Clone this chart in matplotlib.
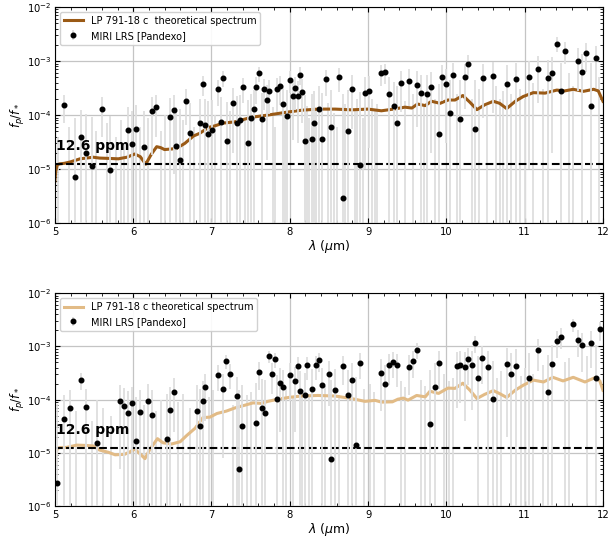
import numpy as np
import matplotlib
matplotlib.use('Agg')
import matplotlib.pyplot as plt

# ---- top panel: binned MIRI LRS points (ppm) ----
wl_a = [5.11, 5.26, 5.33, 5.40, 5.47, 5.60, 5.71, 5.94, 5.99, 6.04,
        6.14, 6.24, 6.29, 6.47, 6.52, 6.55, 6.60, 6.68, 6.73, 6.85,
        6.89, 6.92, 6.96, 7.01, 7.08, 7.12, 7.15, 7.20, 7.27, 7.32,
        7.36, 7.40, 7.46, 7.50, 7.54, 7.57, 7.61, 7.64, 7.67, 7.71,
        7.74, 7.84, 7.87, 7.91, 7.97, 8.00, 8.04, 8.07, 8.10, 8.13,
        8.16, 8.19, 8.28, 8.31, 8.37, 8.41, 8.46, 8.52, 8.63, 8.68,
        8.74, 8.79, 8.90, 8.96, 9.01, 9.16, 9.22, 9.27, 9.33, 9.37,
        9.42, 9.52, 9.63, 9.67, 9.75, 9.80, 9.91, 9.95, 10.00, 10.04,
        10.09, 10.18, 10.24, 10.28, 10.37, 10.47, 10.59, 10.77, 10.89, 11.06,
        11.17, 11.30, 11.35, 11.41, 11.46, 11.51, 11.68, 11.73, 11.78, 11.85,
        11.91]
fp_a = [155, 7.2, 39, 19.5, 11.5, 129, 9.5, 52, 29.5, 56,
        26, 118, 140, 93, 123, 27, 15, 185, 47, 71,
        380, 65, 45, 54, 300, 74, 490, 33, 170, 72,
        81, 330, 30, 87, 130, 330, 590, 83, 300, 190,
        280, 300, 340, 160, 95, 450, 230, 320, 230, 560,
        270, 33, 36, 72, 129, 36, 460, 59, 510, 2.9,
        50, 300, 12, 260, 280, 600, 630, 245, 148, 72,
        390, 430, 360, 260, 250, 330, 45, 510, 370, 110,
        560, 85, 500, 890, 56, 490, 530, 380, 460, 510,
        700, 490, 600, 2100, 280, 1550, 1000, 630, 1400, 148,
        1120]
err_a = [85, 80, 85, 85, 80, 90, 85, 90, 90, 95,
         95, 100, 100, 110, 115, 115, 115, 120, 120, 130,
         150, 130, 135, 135, 150, 140, 155, 140, 150, 150,
         150, 160, 160, 160, 165, 170, 180, 170, 175, 175,
         175, 185, 185, 185, 190, 195, 195, 195, 200, 200,
         200, 200, 210, 210, 215, 215, 230, 230, 240, 240,
         240, 245, 250, 250, 255, 260, 260, 265, 270, 270,
         275, 285, 300, 300, 310, 310, 330, 330, 340, 340,
         350, 360, 370, 380, 390, 400, 420, 450, 470, 500,
         530, 560, 580, 650, 650, 680, 720, 740, 760, 780,
         800]
# bins whose value falls below zero: only the upper end of the bar shows
hid_wl_a = [5.04, 5.18, 5.53, 5.66, 5.78, 5.84, 5.88, 6.09, 6.19, 6.35,
            6.41, 6.64, 6.78, 7.04, 7.24, 7.43, 7.78, 7.81, 7.94, 8.22,
            8.25, 8.34, 8.49, 8.56, 8.60, 8.71, 8.83, 8.86, 8.93, 9.05,
            9.09, 9.12, 9.47, 9.57, 9.71, 9.85, 10.13, 10.33, 10.42, 10.52,
            10.64, 10.68, 10.72, 10.82, 10.94, 11.00, 11.11, 11.24, 11.56, 11.62,
            11.95]
hid_top_a = [40, 60, 50, 70, 40, 80, 30, 60, 90, 50,
             100, 80, 60, 100, 120, 90, 140, 60, 120, 150,
             90, 130, 170, 110, 60, 160, 120, 200, 90, 200,
             120, 160, 180, 250, 150, 200, 250, 200, 300, 150,
             350, 200, 280, 250, 300, 200, 400, 300, 600, 350,
             500]

# ---- top panel: model spectrum (ppm) ----
mod_wl_a = [5.0, 5.01, 5.03, 5.06, 5.12, 5.19, 5.26, 5.32, 5.40, 5.49,
            5.57, 5.68, 5.81, 5.92, 6.02, 6.09, 6.16, 6.23, 6.30, 6.35,
            6.40, 6.55, 6.66, 6.77, 6.85, 6.96, 7.04, 7.15, 7.30, 7.51,
            7.72, 7.94, 8.15, 8.36, 8.58, 8.79, 9.00, 9.17, 9.34, 9.47,
            9.56, 9.63, 9.73, 9.81, 9.92, 10.02, 10.11, 10.21, 10.30, 10.39,
            10.49, 10.60, 10.68, 10.77, 10.88, 10.98, 11.11, 11.26, 11.41, 11.51,
            11.62, 11.75, 11.88, 11.94, 12.0]
mod_a = [6, 9, 12, 12.5, 12.8, 13.5, 14.5, 15.5, 16, 16.6,
         16, 15.8, 15.5, 16.6, 19, 17, 12.3, 18.7, 26, 25,
         23, 24, 30, 41, 46, 59, 63, 71, 75, 91,
         100, 112, 123, 129, 129, 125, 129, 120, 130, 140,
         135, 160, 150, 180, 165, 190, 190, 230, 173, 126,
         155, 180, 165, 132, 180, 220, 260, 255, 290, 280,
         300, 275, 300, 280, 180]

# ---- bottom panel: binned MIRI LRS points (ppm) ----
wl_b = [5.03, 5.115, 5.19, 5.33, 5.40, 5.54, 5.83, 5.88, 5.93, 5.99,
        6.04, 6.09, 6.19, 6.24, 6.43, 6.47, 6.52, 6.81, 6.85, 6.89,
        6.92, 7.08, 7.15, 7.19, 7.235, 7.32, 7.35, 7.39, 7.57, 7.61,
        7.64, 7.68, 7.74, 7.77, 7.81, 7.84, 7.87, 7.91, 8.00, 8.07,
        8.10, 8.13, 8.19, 8.22, 8.28, 8.34, 8.37, 8.41, 8.50, 8.53,
        8.58, 8.68, 8.74, 8.79, 8.84, 8.90, 9.16, 9.22, 9.27, 9.32,
        9.37, 9.52, 9.57, 9.63, 9.79, 9.86, 9.91, 10.13, 10.18, 10.24,
        10.28, 10.33, 10.37, 10.41, 10.46, 10.53, 10.59, 10.77, 10.82, 10.89,
        11.06, 11.17, 11.30, 11.35, 11.41, 11.46, 11.62, 11.68, 11.73, 11.85,
        11.91, 11.96]
fp_b = [2.7, 44, 69, 235, 74, 15.5, 95, 77, 55, 85,
        17, 59, 95, 51, 18, 63, 140, 61, 32, 95,
        174, 295, 158, 530, 310, 117, 5, 32, 37, 330,
        70, 56, 660, 310, 570, 103, 210, 174, 290, 220,
        420, 148, 123, 440, 162, 440, 550, 187, 300, 7.8,
        155, 430, 120, 235, 13.8, 490, 320, 195, 455, 520,
        440, 410, 540, 870, 35, 174, 490, 430, 445, 410,
        570, 450, 1150, 260, 600, 410, 103, 470, 300, 435,
        260, 870, 138, 470, 1260, 1530, 2600, 1350, 1070, 1170,
        250, 2100]
err_b = [80, 80, 80, 85, 85, 85, 90, 90, 90, 90,
         95, 95, 100, 100, 110, 110, 115, 130, 130, 130,
         135, 150, 150, 150, 150, 150, 150, 160, 170, 180,
         170, 175, 175, 180, 180, 185, 185, 185, 195, 195,
         200, 200, 200, 205, 210, 210, 215, 215, 225, 230,
         230, 240, 240, 245, 250, 250, 260, 260, 265, 270,
         270, 285, 290, 300, 320, 320, 330, 360, 360, 370,
         380, 385, 390, 390, 400, 410, 420, 450, 460, 470,
         500, 530, 560, 580, 650, 650, 700, 720, 740, 780,
         800, 820]
hid_wl_b = [5.27, 5.47, 5.62, 5.72, 6.14, 6.29, 6.35, 6.57, 6.64, 6.72,
            6.97, 7.02, 7.27, 7.45, 7.50, 7.95, 8.04, 8.16, 8.25, 8.45,
            8.63, 8.95, 9.02, 9.08, 9.42, 9.47, 9.68, 9.73, 9.97, 10.03,
            10.08, 10.65, 10.70, 10.95, 11.00, 11.11, 11.24, 11.52, 11.57, 11.79]
hid_top_b = [60, 40, 70, 50, 80, 60, 100, 90, 130, 70,
             110, 150, 80, 120, 140, 170, 110, 150, 130, 180,
             120, 160, 200, 140, 220, 170, 230, 180, 300, 220,
             260, 250, 350, 280, 400, 300, 450, 500, 600, 650]

# ---- bottom panel: model spectrum (ppm) ----
mod_wl_b = [5.0, 5.01, 5.03, 5.06, 5.15, 5.28, 5.40, 5.49, 5.57, 5.68,
            5.77, 5.89, 5.96, 6.02, 6.09, 6.15, 6.21, 6.31, 6.38, 6.49,
            6.60, 6.68, 6.79, 6.89, 6.98, 7.07, 7.19, 7.30, 7.43, 7.53,
            7.64, 7.72, 7.85, 8.0, 8.15, 8.36, 8.58, 8.75, 8.83, 8.96,
            9.09, 9.17, 9.31, 9.38, 9.45, 9.51, 9.62, 9.73, 9.79, 9.90,
            10.02, 10.11, 10.21, 10.30, 10.39, 10.49, 10.60, 10.68, 10.77, 10.88,
            10.98, 11.11, 11.24, 11.36, 11.49, 11.62, 11.77, 11.90, 11.96, 12.0]
mod_b = [6, 9, 12, 12.6, 12.7, 14, 13.8, 13.5, 11.3, 10.3,
         9.2, 9.4, 10.5, 11.8, 9.5, 7.8, 11.5, 18.5, 15.5, 14.7,
         16.2, 21, 29, 46, 47, 55, 61, 70, 79, 87,
         85, 93, 102, 111, 117, 120, 117, 107, 102, 93,
         97, 90, 91, 102, 107, 98, 120, 113, 144, 131,
         165, 163, 204, 151, 105, 126, 148, 130, 110, 151,
         186, 233, 215, 263, 225, 263, 215, 260, 225, 150]

noise_floor_ppm = 12.6
labels = ['LP 791-18 c  theoretical spectrum', 'LP 791-18 c theoretical spectrum']
colors = ['#9a5a16', '#e2bb86']
bar_color = '#dedede'

fig = plt.figure(figsize=(6.1, 5.39), dpi=100)
ax1 = fig.add_axes([0.090, 0.586, 0.8985, 0.401])
ax2 = fig.add_axes([0.090, 0.061, 0.8985, 0.395])

panels = [
    (ax1, wl_a, fp_a, err_a, hid_wl_a, hid_top_a, mod_wl_a, mod_a),
    (ax2, wl_b, fp_b, err_b, hid_wl_b, hid_top_b, mod_wl_b, mod_b),
]

for i, (ax, wl, fp, err, hwl, htop, mwl, mfp) in enumerate(panels):
    ax.set_yscale('log')
    ax.vlines(hwl, 1e-7, np.array(htop) * 1e-6, color=bar_color, lw=1.3, zorder=1.5)
    ax.plot(mwl, np.array(mfp) * 1e-6, color=colors[i], lw=2.2, label=labels[i], zorder=2)
    ax.errorbar(wl, np.array(fp) * 1e-6, yerr=np.array(err) * 1e-6, fmt='o', ms=3.3,
                color='k', ecolor=bar_color, elinewidth=1.3, capsize=0,
                label='MIRI LRS [Pandexo]', zorder=3)
    ax.axhline(noise_floor_ppm * 1e-6, color='k', ls='--', lw=1.5, zorder=2.5)
    ax.text(5.01, 2.0e-5, '%.1f ppm' % noise_floor_ppm, fontsize=10,
            fontweight='bold', va='bottom', ha='left', zorder=4)
    ax.set_xlim(5, 12)
    ax.set_ylim(1e-6, 1e-2)
    ax.set_axisbelow(True)
    ax.grid(True, which='major', color='#c4c4c4', lw=0.9)
    ax.xaxis.set_minor_locator(matplotlib.ticker.MultipleLocator(0.2))
    ax.tick_params(which='both', direction='in', top=True, right=True,
                   labelsize=7.2, pad=2.5)
    ax.tick_params(which='major', length=3.5)
    ax.tick_params(which='minor', length=2)
    ax.set_xlabel(r'$\lambda$ ($\mu$m)', fontsize=9, labelpad=1)
    ax.set_ylabel(r'$f_p/f_*$', fontsize=8.5, labelpad=0)
    ax.legend(loc='upper left', fontsize=7, framealpha=0.9, borderaxespad=0.5)

fig.savefig('out.png', dpi=100)
